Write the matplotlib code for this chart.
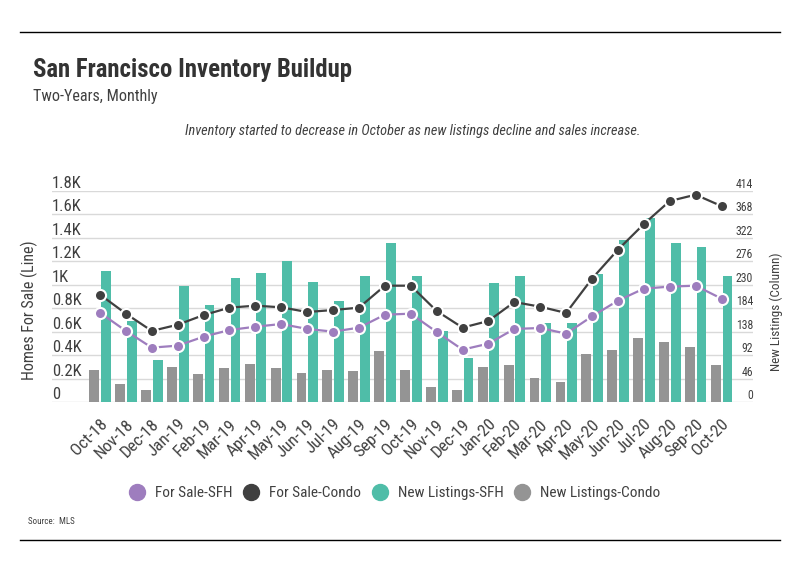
import matplotlib
matplotlib.use('Agg')
import matplotlib.pyplot as plt
import matplotlib.font_manager as fm
from matplotlib.lines import Line2D
from matplotlib.transforms import ScaledTranslation

# look for a narrow sans, the reference uses a condensed face
narrow = None
names = {(f.name, f.stretch) for f in fm.fontManager.ttflist}
for cand in ['Liberation Sans Narrow', 'Roboto Condensed', 'Open Sans Condensed',
             'Noto Sans Condensed', 'DejaVu Sans Condensed']:
    if any(n == cand for n, s in names):
        narrow = cand
        break
if narrow is None:
    for n, s in sorted(names):
        if s == 'condensed' and 'Mono' not in n and 'Serif' not in n and 'CJK' not in n:
            narrow = n
            break
if narrow:
    plt.rcParams['font.family'] = [narrow, 'DejaVu Sans']
    plt.rcParams['font.stretch'] = 'condensed'
    K = 1.0
else:
    plt.rcParams['font.family'] = ['DejaVu Sans']
    K = 0.82

months = ['Oct-18', 'Nov-18', 'Dec-18', 'Jan-19', 'Feb-19', 'Mar-19', 'Apr-19', 'May-19',
          'Jun-19', 'Jul-19', 'Aug-19', 'Sep-19', 'Oct-19', 'Nov-19', 'Dec-19', 'Jan-20',
          'Feb-20', 'Mar-20', 'Apr-20', 'May-20', 'Jun-20', 'Jul-20', 'Aug-20', 'Sep-20', 'Oct-20']
new_listings_sfh = [257, 159, 83, 228, 190, 243, 253, 276, 235, 198, 247, 312, 247,
                    140, 87, 234, 247, 155, 155, 251, 318, 361, 312, 304, 247]
new_listings_condo = [63, 36, 24, 69, 55, 67, 75, 67, 57, 63, 61, 100, 63,
                      30, 24, 69, 73, 48, 40, 95, 102, 126, 118, 108, 73]
for_sale_sfh = [762, 607, 465, 482, 558, 615, 643, 666, 624, 601, 635, 745, 754,
                598, 448, 499, 624, 632, 584, 731, 865, 967, 984, 992, 882]
for_sale_condo = [916, 754, 607, 660, 742, 805, 822, 808, 768, 785, 805, 992, 992,
                  777, 635, 692, 853, 813, 760, 1052, 1298, 1516, 1712, 1766, 1669]

left_ticks = [0, 200, 400, 600, 800, 1000, 1200, 1400, 1600, 1800]
left_labels = ['0', '0.2K', '0.4K', '0.6K', '0.8K', '1K', '1.2K', '1.4K', '1.6K', '1.8K']
right_ticks = [0, 46, 92, 138, 184, 230, 276, 322, 368, 414]

C_SFH = '#9E7DBE'
C_CONDO = '#404040'
C_NL_SFH = '#4FBDA8'
C_NL_CONDO = '#949494'
TXT = '#404040'

fig = plt.figure(figsize=(7.99, 5.75), dpi=100)

# frame lines + header
fig.add_artist(Line2D([20/799, 780/799], [1-32/575, 1-32/575], color='black', lw=1))
fig.add_artist(Line2D([20/799, 780/799], [1-540/575, 1-540/575], color='black', lw=1))
fig.text(33/799, 1-70/575, 'San Francisco Inventory Buildup', fontsize=17.8*K, fontweight='bold',
         color='#333333', va='center', ha='left')
fig.text(33/799, 1-97/575, 'Two-Years, Monthly', fontsize=11.6*K, color='#404040', va='center')
fig.text(413/799, 1-131/575, 'Inventory started to decrease in October as new listings decline and sales increase.',
         fontsize=10.3*K, style='italic', color='#404040', ha='center', va='center')
fig.text(28/799, 1-522/575, 'Source:  MLS', fontsize=6.5*K, color='#404040', va='center')

ax = fig.add_axes([52/799, 1-402.3/575, (753-52)/799, (402.3-190.7)/575])
x = list(range(len(months)))
w = 0.38
ax.bar([i - 0.22 for i in x], new_listings_condo, width=w, color=C_NL_CONDO, zorder=2)
ax.bar([i + 0.23 for i in x], new_listings_sfh, width=w, color=C_NL_SFH, zorder=2)
ax.set_ylim(0, 414)
ax.set_xlim(-1.854, 25.216)
ax.grid(axis='y', color='#D9D9D9', lw=1)
ax.set_axisbelow(True)
for s in ax.spines.values():
    s.set_visible(False)
ax.set_xticks(x)
ax.set_xticklabels(months, rotation=45, ha='right', va='center', rotation_mode='anchor',
                   fontsize=12.3*K, color=TXT)
ax.tick_params(axis='x', length=0, pad=14)
shift = ScaledTranslation(5/100, 0, fig.dpi_scale_trans)
for lbl in ax.get_xticklabels():
    lbl.set_transform(lbl.get_transform() + shift)

axl = ax.twinx()
axl.plot(x, for_sale_condo, color=C_CONDO, lw=1.6, marker='o', ms=8,
         mfc=C_CONDO, mec='white', mew=1.5, zorder=3)
axl.plot(x, for_sale_sfh, color=C_SFH, lw=1.6, marker='o', ms=8,
         mfc=C_SFH, mec='white', mew=1.5, zorder=3)
axl.set_ylim(0, 1800)
for s in axl.spines.values():
    s.set_visible(False)

# twinx puts the first axis ticks on the left, so swap after it
ax.yaxis.tick_right()
ax.yaxis.set_label_position('right')
axl.yaxis.tick_left()
axl.yaxis.set_label_position('left')

ax.set_yticks(right_ticks)
ax.set_yticklabels([str(t) for t in right_ticks])
ax.tick_params(axis='y', length=0, pad=0, labelsize=8.5*K, colors=TXT)
for lbl in ax.get_yticklabels():
    lbl.set_ha('right')
    lbl.set_va('bottom')
ax.set_ylabel('New Listings (Column)', fontsize=9.5*K, color=TXT)
ax.yaxis.set_label_coords(1.023, 0.43)

axl.set_yticks(left_ticks)
axl.set_yticklabels(left_labels)
axl.tick_params(axis='y', length=0, pad=0, labelsize=12*K, colors=TXT)
for lbl in axl.get_yticklabels():
    lbl.set_ha('left')
    lbl.set_va('bottom')
axl.set_ylabel('Homes For Sale (Line)', fontsize=11.5*K, color=TXT)
axl.yaxis.set_label_coords(-0.02, 0.436)

handles = [Line2D([], [], ls='none', marker='o', ms=11.5, color=c)
           for c in [C_SFH, C_CONDO, C_NL_SFH, C_NL_CONDO]]
fig.legend(handles, ['For Sale-SFH', 'For Sale-Condo', 'New Listings-SFH', 'New Listings-Condo'],
           loc='center', bbox_to_anchor=(395/799, 1-493/575), ncol=4, frameon=False,
           fontsize=11*K, handlelength=1.0, handletextpad=0.7, columnspacing=0.7,
           labelcolor=TXT)

fig.savefig('out.png', dpi=100)
